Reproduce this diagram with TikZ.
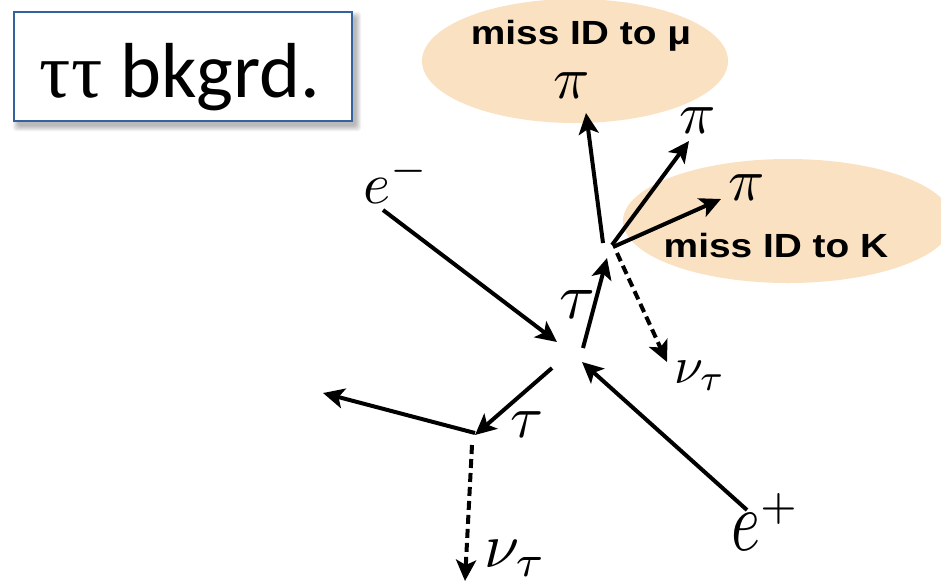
\documentclass[tikz,border=0pt]{standalone}
\usepackage{fontspec}
\usepackage{graphicx}
\usetikzlibrary{arrows.meta,shapes.geometric}
\newfontfamily\carl{Carlito}
\newfontfamily\lsans{Liberation Sans}
\newfontfamily\lserif{Liberation Serif}
\definecolor{peach}{RGB}{249,225,193}
\definecolor{boxblue}{RGB}{52,98,158}
\begin{document}
\begin{tikzpicture}[x=1pt,y=-1pt,
  ptc/.style={line width=4pt,-{Stealth[length=21pt,width=20pt,inset=5pt]}},
  nuline/.style={ptc,dash pattern=on 9pt off 5pt},
  blob/.style={ellipse,fill=peach,draw=none,inner sep=0pt},
  misslbl/.style={font=\lsans\bfseries\fontsize{33.5}{38}\selectfont,inner sep=0pt,anchor=base},
  mlbl/.style={inner sep=0pt}]
\useasboundingbox (0,0) rectangle (941,587);
\clip (0,0) rectangle (941,587);
% highlight zones
\node[blob,minimum width=306pt,minimum height=124pt] (muzone) at (575,61) {};
\node[blob,minimum width=330pt,minimum height=124pt] (kzone) at (788,221) {};
% title box with soft shadow
\foreach \i in {0,1,...,5}
  \fill[black,opacity=0.05,rounded corners=3pt] (18-\i,17-\i) rectangle (356+\i,126+\i);
\node[draw=boxblue,fill=white,line width=2.5pt,minimum width=338pt,minimum height=109pt,inner sep=0pt] (title) at (183,66.5) {};
\node[inner sep=0pt,anchor=base] (titletext) at (180,97) {\carl\fontsize{78}{92}\selectfont{\lserif ττ} bkgrd.};
% labels
\node[misslbl] (muID) at (581,44) {\scalebox{1.16}[1]{miss ID to μ}};
\node[misslbl] (kID) at (776,257) {\scalebox{1.16}[1]{miss ID to K}};
\node[mlbl] (pi1) at (572,86) {\scalebox{6}{$\pi$}};
\node[mlbl] (pi2) at (698,121) {\scalebox{6}{$\pi$}};
\node[mlbl] (pi3) at (747,188) {\scalebox{6}{$\pi$}};
\node[mlbl] (tau1) at (577,304) {\scalebox{6.5}{$\tau$}};
\node[mlbl] (tau2) at (527,425) {\scalebox{6}{$\tau$}};
\node[mlbl,anchor=base west] (nu1) at (674,383) {\scalebox{5.2}{$\nu_\tau$}};
\node[mlbl,anchor=base west] (nu2) at (484,567) {\scalebox{6.3}{$\nu_\tau$}};
\node[mlbl,anchor=base west] (em) at (363,203) {\scalebox{5.8}{$e^-$}};
\node[mlbl,anchor=base west] (ep) at (731,550) {\scalebox{6.2}[8.6]{$e$}\raisebox{31pt}{\scalebox{6}{$\scriptstyle+$}}};
% vertices / endpoints
\coordinate (emS) at (383,210);  \coordinate (emT) at (557,342);
\coordinate (epS) at (747,510);  \coordinate (epT) at (582,362);
\coordinate (tuS) at (583,348);  \coordinate (tuT) at (607,258);
\coordinate (p1S) at (603,243);  \coordinate (p1T) at (586,113);
\coordinate (p2S) at (612,245);  \coordinate (p2T) at (689,141);
\coordinate (p3S) at (613,247);  \coordinate (p3T) at (721,199);
\coordinate (n1S) at (617,253);  \coordinate (n1T) at (667,362);
\coordinate (tdS) at (552,368);  \coordinate (tdT) at (475,435);
\coordinate (lfS) at (475,433);  \coordinate (lfT) at (323,393);
\coordinate (n2S) at (472,445);  \coordinate (n2T) at (465,581);
% tracks
\draw[ptc] (emS) -- (emT);
\draw[ptc] (epS) -- (epT);
\draw[ptc] (tuS) -- (tuT);
\draw[ptc] (p1S) -- (p1T);
\draw[ptc] (p2S) -- (p2T);
\draw[ptc] (p3S) -- (p3T);
\draw[nuline] (n1S) -- (n1T);
\draw[ptc] (tdS) -- (tdT);
\draw[ptc] (lfS) -- (lfT);
\draw[nuline] (n2S) -- (n2T);
\end{tikzpicture}
\end{document}
